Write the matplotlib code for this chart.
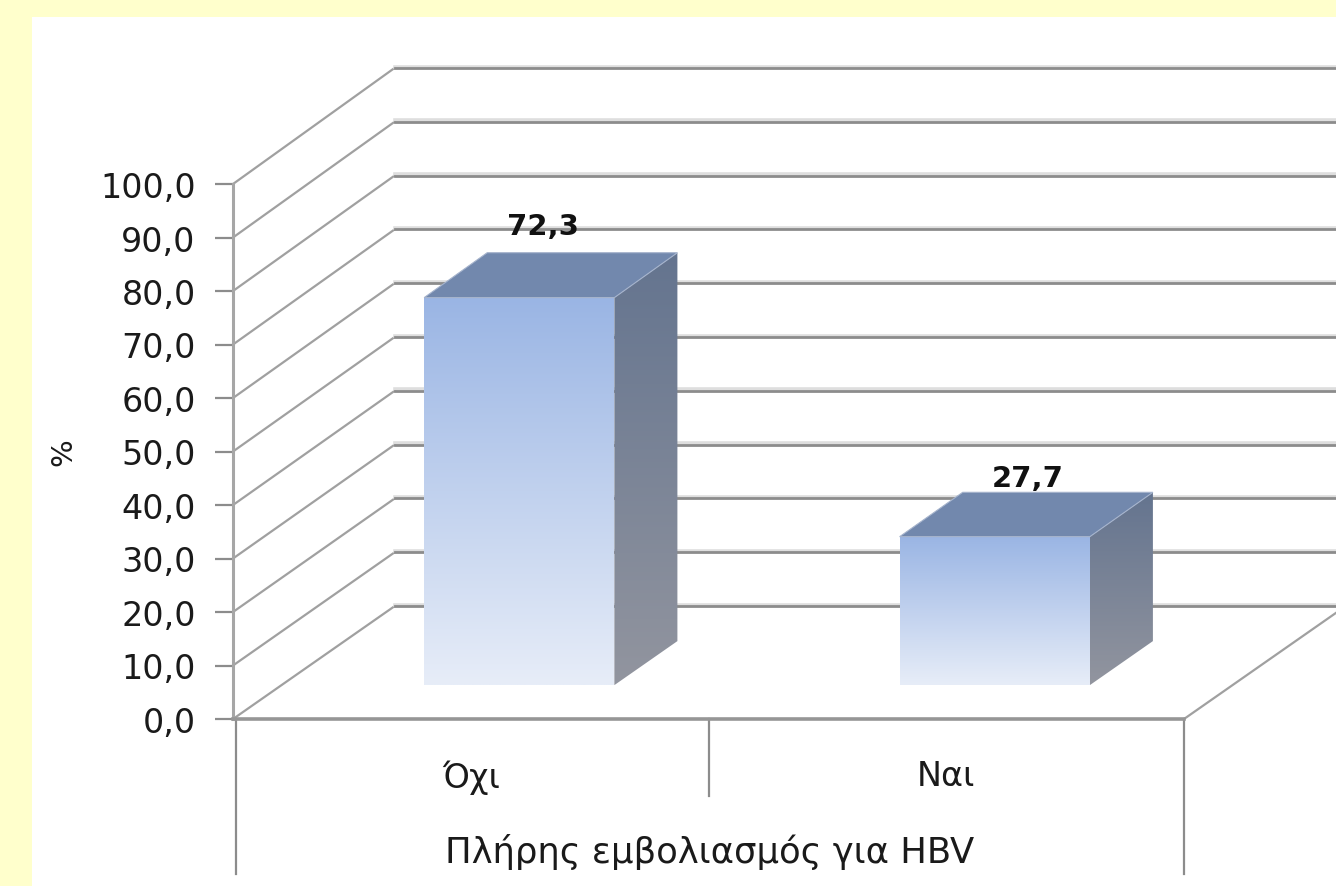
import numpy as np
import matplotlib
matplotlib.use("Agg")
import matplotlib.pyplot as plt
from matplotlib.colors import LinearSegmentedColormap
from matplotlib.patches import Polygon, Rectangle

categories = ["Όχι", "Ναι"]
values = [72.3, 27.7]
value_labels = ["72,3", "27,7"]
y_ticks = [0, 10, 20, 30, 40, 50, 60, 70, 80, 90, 100]
y_tick_labels = ["0,0", "10,0", "20,0", "30,0", "40,0", "50,0", "60,0", "70,0", "80,0", "90,0", "100,0"]
x_title = "Πλήρης εμβολιασμός για HBV"
y_title = "%"

W, H = 1336, 887
LINE = "#8c8c8c"
SHADOW = "#dedede"

# 3d look: depth 0 is the front plane, depth 1 the back wall
DEPTH_X = 0.34
DEPTH_Y = 21.1
BAR_WIDTH = 0.4
BAR_D0 = 0.30
BAR_D1 = 0.69
# label offset from the bar's back top edge, in points
LABEL_OFFSETS = [(40, 9), (47, 0.5)]


def project(x, v, d):
    return x + d * DEPTH_X, v * (1 + 0.006 * d) + d * DEPTH_Y


def gradient_face(ax, fig, corners, top, bottom):
    poly = Polygon(corners, closed=True, facecolor="none", edgecolor="none", clip_on=False, zorder=3)
    ax.add_patch(poly)
    xs = [c[0] for c in corners]
    ys = [c[1] for c in corners]
    cmap = LinearSegmentedColormap.from_list("face", [top, bottom])
    im = ax.imshow(np.linspace(0, 1, 256).reshape(-1, 1), cmap=cmap, aspect="auto",
                   extent=(min(xs), max(xs), min(ys), max(ys)), zorder=3, interpolation="bilinear")
    im.set_clip_path(poly)
    im.set_clip_box(fig.bbox)


fig = plt.figure(figsize=(W / 100, H / 100), dpi=100, facecolor="#ffffcc")
panel = Rectangle((32 / W, 0), (W - 32) / W, (H - 18) / H, transform=fig.transFigure,
                  facecolor="white", edgecolor="none", zorder=-1)
fig.add_artist(panel)

ax = fig.add_axes([233 / W, (H - 720) / H, (1184 - 233) / W, (720 - 185) / H])
ax.patch.set_visible(False)

# side wall and back wall grid lines
for v in y_ticks:
    x0, y0 = project(0, v, 0)
    x1, y1 = project(0, v, 1)
    ax.plot([x0, x1], [y0, y1], color="#a0a0a0", lw=1.6, clip_on=False, zorder=1)
    x2 = 2.4
    ax.plot([x1, x2], [y1 + 0.25, y1 + 0.25], color=SHADOW, lw=2.6, clip_on=False, zorder=1)
    ax.plot([x1, x2], [y1, y1], color=LINE, lw=2.0, clip_on=False, zorder=1.1)

# floor edge on the right
x0, y0 = project(2, 0, 0)
x1, y1 = project(2, 0, 1)
ax.plot([x0, x1], [y0, y1], color="#a0a0a0", lw=1.6, clip_on=False, zorder=1)

for i, v in enumerate(values):
    left = i + 0.5 - BAR_WIDTH / 2
    right = i + 0.5 + BAR_WIDTH / 2
    # front, side, top of the box
    fl0, fb0 = project(left, 0, BAR_D0)
    fr0, _ = project(right, 0, BAR_D0)
    _, ft0 = project(left, v, BAR_D0)
    bl1, bb1 = project(left, 0, BAR_D1)
    br1, _ = project(right, 0, BAR_D1)
    _, bt1 = project(left, v, BAR_D1)
    gradient_face(ax, fig, [(fl0, fb0), (fr0, fb0), (fr0, ft0), (fl0, ft0)], "#9ab5e4", "#e7edf8")
    gradient_face(ax, fig, [(fr0, fb0), (br1, bb1), (br1, bt1), (fr0, ft0)], "#64748f", "#92959f")
    ax.add_patch(Polygon([(fl0, ft0), (fr0, ft0), (br1, bt1), (bl1, bt1)], closed=True, facecolor="#7288ad",
                         edgecolor="#a5b3cc", lw=0.8, clip_on=False, zorder=3.5))
    lx = i + 0.5 + BAR_D1 * DEPTH_X - 0.2
    ax.annotate(value_labels[i], (lx, bt1), xytext=LABEL_OFFSETS[i],
                textcoords="offset points", ha="center", va="bottom", fontsize=21, fontweight="bold",
                color="#111111", zorder=5, annotation_clip=False)

ax.set_xlim(0, 2)
ax.set_ylim(0, 100)

for side in ["top", "right"]:
    ax.spines[side].set_visible(False)
ax.spines["left"].set_color("#a6a6a6")
ax.spines["left"].set_linewidth(2.2)
ax.spines["bottom"].set_color("#969696")
ax.spines["bottom"].set_linewidth(2.6)

ax.set_yticks(y_ticks)
ax.set_yticklabels(y_tick_labels, fontsize=24, color="#1a1a1a")
ax.tick_params(axis="y", length=13, width=1.6, color=LINE, pad=14)
ax.set_xticks([0.5, 1.5])
ax.set_xticklabels(categories, fontsize=24, color="#1a1a1a")
ax.tick_params(axis="x", length=0, pad=29)

# category separators below the axis
ax.plot([1, 1], [0, -14.4], color=LINE, lw=1.6, clip_on=False)
ax.plot([0.006, 0.006], [0, -29], color=LINE, lw=1.6, clip_on=False)
ax.plot([2, 2], [0, -29], color=LINE, lw=1.6, clip_on=False)

ax.text(1.003, -24.7, x_title, ha="center", va="center", fontsize=25.5, color="#1a1a1a")
ax.set_ylabel(y_title, fontsize=21, color="#1a1a1a", labelpad=16)

fig.savefig("out.png", dpi=100, facecolor=fig.get_facecolor())
